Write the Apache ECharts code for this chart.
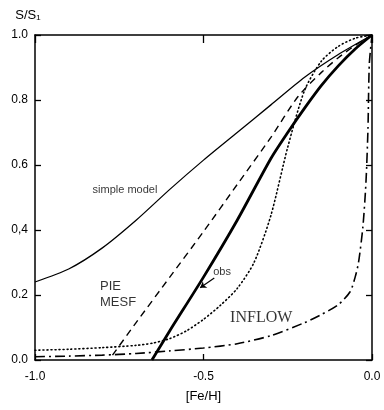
<!DOCTYPE html>
<html>
<head>
<meta charset="utf-8">
<script src="https://cdn.jsdelivr.net/npm/echarts@6/dist/echarts.min.js"></script>
<style>
  html, body { margin: 0; padding: 0; background: #fff; }
  #chart { width: 384px; height: 410px; }
</style>
</head>
<body>
<div id="chart"></div>
<script>
// values: [Fe/H] and S/S1 for each curve
const simpleFeh = [-1.0, -0.9, -0.8, -0.7, -0.6, -0.5, -0.4, -0.3, -0.2, -0.1, 0.0];
const simpleS = [0.24, 0.28, 0.345, 0.43, 0.525, 0.615, 0.70, 0.785, 0.87, 0.94, 1.0];

const pieFeh = [-0.77, -0.7, -0.6, -0.5, -0.4, -0.3, -0.22, -0.15, -0.1, -0.05, 0.0];
const pieS = [0.015, 0.115, 0.255, 0.395, 0.54, 0.685, 0.81, 0.885, 0.93, 0.968, 1.0];

const obsFeh = [-0.653, -0.6, -0.5, -0.4, -0.3, -0.25, -0.2, -0.15, -0.1, -0.05, 0.0];
const obsS = [0.0, 0.09, 0.255, 0.43, 0.62, 0.70, 0.775, 0.845, 0.905, 0.957, 1.0];

const dotFeh = [-1.0, -0.9, -0.8, -0.7, -0.65, -0.6, -0.55, -0.5, -0.45, -0.4, -0.35, -0.3, -0.25, -0.2, -0.15, -0.1, -0.05, 0.0];
const dotS = [0.03, 0.033, 0.038, 0.045, 0.052, 0.066, 0.09, 0.125, 0.168, 0.22, 0.30, 0.445, 0.655, 0.83, 0.92, 0.965, 0.99, 1.0];

const inflowFeh = [-1.0, -0.9, -0.8, -0.7, -0.6, -0.5, -0.4, -0.3, -0.2, -0.15, -0.1, -0.065, -0.05, -0.04, -0.027, -0.018, -0.012, -0.008, 0.0];
const inflowS = [0.01, 0.012, 0.015, 0.02, 0.028, 0.037, 0.05, 0.075, 0.115, 0.14, 0.17, 0.21, 0.255, 0.30, 0.41, 0.545, 0.71, 0.91, 1.0];

const xTickLabels = ["-1.0", "-0.5", "0.0"];
const yTickLabels = ["0.0", "0.2", "0,4", "0.6", "0.8", "1.0"];

// curve labels
const noteText = ["simple model", "PIE", "MESF", "INFLOW", "obs"];
const noteFeh = [-0.733, -0.807, -0.807, -0.421, -0.445];
const noteS = [0.523, 0.225, 0.178, 0.129, 0.271];

const INK = "#000";
const SANS = "'Liberation Sans', 'DejaVu Sans', sans-serif";
const NARROW = "'Liberation Sans Narrow', 'Liberation Sans', sans-serif";

const zip = (xs, ys) => xs.map((x, i) => [x, ys[i]]);

const noteStyle = {
  "simple model": { fontFamily: NARROW, fontSize: 11, align: "center" },
  PIE: { fontFamily: SANS, fontSize: 13, align: "left" },
  MESF: { fontFamily: SANS, fontSize: 13, align: "left" },
  INFLOW: { fontFamily: "'Liberation Serif', serif", fontSize: 16, align: "left" },
  obs: { fontFamily: NARROW, fontSize: 11, align: "center" },
};

function curve(name, xs, ys, lineStyle, extra) {
  return Object.assign({
    name,
    type: "line",
    data: zip(xs, ys),
    smooth: 0.25,
    showSymbol: false,
    symbol: "none",
    silent: true,
    lineStyle: Object.assign({ color: INK }, lineStyle),
  }, extra || {});
}

// fresh objects for each axis; onZero off so the frame stays on the grid edges
const axisLine = () => ({ show: true, onZero: false, lineStyle: { color: INK, width: 1.5 } });
const inTick = (len) => ({ show: true, inside: true, length: len || 6, lineStyle: { color: INK, width: 1.3 } });

const chart = echarts.init(document.getElementById("chart"));

chart.setOption({
  animation: false,
  backgroundColor: "#fff",
  grid: { left: 35, right: 12, top: 35, bottom: 50 },
  xAxis: [
    {
      type: "value", position: "bottom", min: -1, max: 0, interval: 0.5,
      axisLine: axisLine(), axisTick: inTick(6), splitLine: { show: false },
      axisLabel: {
        color: INK, fontFamily: SANS, fontSize: 12, margin: 11,
        formatter: (v) => xTickLabels[Math.round((v + 1) / 0.5)],
      },
      name: "[Fe/H]", nameLocation: "middle", nameGap: 30,
      nameTextStyle: { color: INK, fontFamily: SANS, fontSize: 13 },
    },
    {
      type: "value", position: "top", min: -1, max: 0, interval: 0.5,
      axisLine: axisLine(), axisTick: inTick(8),
      axisLabel: { show: false }, splitLine: { show: false },
    },
  ],
  yAxis: [
    {
      type: "value", position: "left", min: 0, max: 1, interval: 0.2,
      axisLine: axisLine(), axisTick: inTick(6), splitLine: { show: false },
      axisLabel: {
        color: INK, fontFamily: SANS, fontSize: 12, margin: 7,
        formatter: (v) => yTickLabels[Math.round(v / 0.2)],
      },
      name: "S/S\u2081", nameLocation: "end", nameGap: 13,
      nameTextStyle: { color: INK, fontFamily: SANS, fontSize: 13, align: "center", padding: [0, 14, 0, 0] },
    },
    {
      type: "value", position: "right", min: 0, max: 1, interval: 0.2,
      axisLine: axisLine(), axisTick: inTick(6),
      axisLabel: { show: false }, splitLine: { show: false },
    },
  ],
  series: [
    curve("simple model", simpleFeh, simpleS, { width: 1.3 }),
    curve("PIE MESF", pieFeh, pieS, { width: 1.4, type: [7, 5] }),
    curve("obs", obsFeh, obsS, { width: 2.8 }, {
      markLine: {
        silent: true,
        symbol: ["none", "arrow"],
        symbolSize: 6,
        label: { show: false },
        lineStyle: { color: INK, width: 1.2, type: "solid", curveness: 0.9 },
        data: [[{ coord: [-0.468, 0.252] }, { coord: [-0.51, 0.222] }]],
      },
    }),
    curve("dotted", dotFeh, dotS, { width: 1.6, type: [1, 3], cap: "round" }),
    curve("INFLOW", inflowFeh, inflowS, { width: 1.6, type: [10, 4, 2, 4] }),
    {
      name: "notes",
      type: "scatter",
      silent: true,
      symbolSize: 0,
      data: noteText.map((t, i) => ({
        value: [noteFeh[i], noteS[i]],
        label: Object.assign({
          show: true, position: "inside", formatter: t, color: INK, verticalAlign: "middle",
        }, noteStyle[t]),
      })),
    },
  ],
});
</script>
</body>
</html>
